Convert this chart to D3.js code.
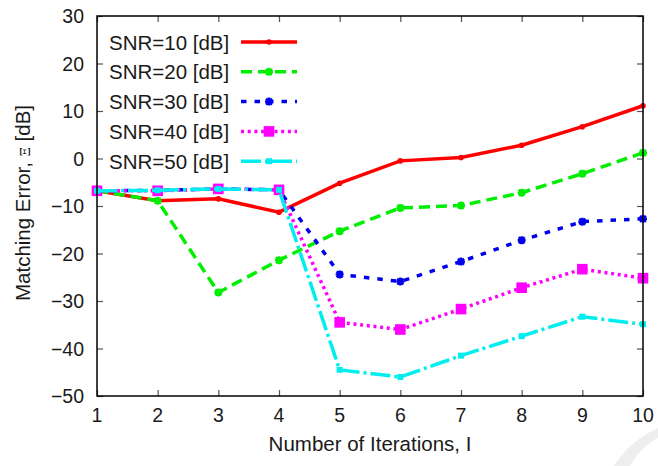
<!DOCTYPE html>
<html>
<head>
<meta charset="utf-8">
<script src="https://cdn.jsdelivr.net/npm/d3@7"></script>
<style>
  html, body { margin: 0; padding: 0; background: #fff; }
  svg { display: block; }
  text { font-family: "Liberation Sans", Arial, Helvetica, sans-serif; fill: #1a1a1a; }
</style>
</head>
<body>
<svg id="chart" width="658" height="466"></svg>
<script>
// Iteration index (x axis)
const iterations = [1, 2, 3, 4, 5, 6, 7, 8, 9, 10];

// Matching error in dB for each SNR level
const snr10 = [-6.8, -8.9, -8.5, -11.3, -5.2, -0.5, 0.2, 2.8, 6.7, 11.1];
const snr20 = [-6.8, -8.9, -28.2, -21.4, -15.3, -10.4, -9.9, -7.2, -3.2, 1.2];
const snr30 = [-6.8, -6.7, -6.4, -6.6, -24.4, -25.9, -21.7, -17.2, -13.3, -12.7];
const snr40 = [-6.8, -6.8, -6.4, -6.6, -34.5, -36.0, -31.7, -27.2, -23.3, -25.2];
const snr50 = [-6.8, -6.7, -6.4, -6.6, -44.5, -46.0, -41.5, -37.4, -33.3, -34.9];

const seriesLabels = ["SNR=10 [dB]", "SNR=20 [dB]", "SNR=30 [dB]", "SNR=40 [dB]", "SNR=50 [dB]"];

// Axis tick values
const xTicks = [1, 2, 3, 4, 5, 6, 7, 8, 9, 10];
const yTicks = [-50, -40, -30, -20, -10, 0, 10, 20, 30];

const series = [
  { label: seriesLabels[0], values: snr10, color: "#ff0000", dash: null,        marker: "circle" },
  { label: seriesLabels[1], values: snr20, color: "#00ee00", dash: "11,6",      marker: "star" },
  { label: seriesLabels[2], values: snr30, color: "#0000ee", dash: "5.5,8",     marker: "star" },
  { label: seriesLabels[3], values: snr40, color: "#ff00ff", dash: "3,3.7",     marker: "square" },
  { label: seriesLabels[4], values: snr50, color: "#00eeee", dash: "20,4,3,4",  marker: "smallsquare" }
];

const svg = d3.select("#chart");
const plotLeft = 97, plotRight = 643, plotTop = 16, plotBottom = 396;

const x = d3.scaleLinear().domain([1, 10]).range([plotLeft, plotRight]);
const y = d3.scaleLinear().domain([-50, 30]).range([plotBottom, plotTop]);

// Faint decorative arc at the lower right
svg.append("path")
  .attr("d", "M658,428 C640,436 624,450 614,466 L630,466 C638,452 648,443 658,438 Z")
  .attr("fill", "#eeeeee");

// Inward ticks on all four sides
const tickLen = 6;
const tickColor = "#555";
const bottomAxis = d3.axisBottom(x).tickValues(xTicks).tickSize(-tickLen).tickFormat("");
const topAxis = d3.axisTop(x).tickValues(xTicks).tickSize(-tickLen).tickFormat("");
const leftAxis = d3.axisLeft(y).tickValues(yTicks).tickSize(-tickLen).tickFormat("");
const rightAxis = d3.axisRight(y).tickValues(yTicks).tickSize(-tickLen).tickFormat("");

function styleAxis(g) {
  g.select(".domain").remove();
  g.selectAll(".tick line").attr("stroke", tickColor).attr("stroke-width", 1.2);
}
svg.append("g").attr("transform", `translate(0,${plotBottom})`).call(bottomAxis).call(styleAxis);
svg.append("g").attr("transform", `translate(0,${plotTop})`).call(topAxis).call(styleAxis);
svg.append("g").attr("transform", `translate(${plotLeft},0)`).call(leftAxis).call(styleAxis);
svg.append("g").attr("transform", `translate(${plotRight},0)`).call(rightAxis).call(styleAxis);

// Tick labels
const fmt = v => (v < 0 ? "\u2212" + Math.abs(v) : String(v));
svg.append("g").selectAll("text").data(yTicks).join("text")
  .attr("x", plotLeft - 13).attr("y", d => y(d) + 7)
  .attr("text-anchor", "end").attr("font-size", 19.5)
  .text(fmt);
svg.append("g").selectAll("text").data(xTicks).join("text")
  .attr("x", d => x(d)).attr("y", 422)
  .attr("text-anchor", "middle").attr("font-size", 19.5)
  .text(d => d);

// Axis titles
svg.append("text")
  .attr("x", (plotLeft + plotRight) / 2).attr("y", 451)
  .attr("text-anchor", "middle").attr("font-size", 20.5)
  .text("Number of Iterations, I");

const yTitle = svg.append("text")
  .attr("transform", `translate(30,${(plotTop + plotBottom) / 2 - 3}) rotate(-90)`)
  .attr("text-anchor", "middle").attr("font-size", 20.5);
yTitle.append("tspan").text("Matching Error, ");
yTitle.append("tspan").attr("font-size", 13).attr("font-family", "DejaVu Serif, serif").text("\u039E");
yTitle.append("tspan").text(" [dB]");

// Marker drawing
function drawMarker(g, kind, cx, cy, color) {
  if (kind === "circle") {
    g.append("circle").attr("cx", cx).attr("cy", cy).attr("r", 2.8).attr("fill", color);
  } else if (kind === "star") {
    const r = 4;
    const p = d3.path();
    p.moveTo(cx - r, cy); p.lineTo(cx + r, cy);
    p.moveTo(cx, cy - r); p.lineTo(cx, cy + r);
    const d = r * 0.75;
    p.moveTo(cx - d, cy - d); p.lineTo(cx + d, cy + d);
    p.moveTo(cx - d, cy + d); p.lineTo(cx + d, cy - d);
    g.append("path").attr("d", p.toString()).attr("stroke", color).attr("stroke-width", 2.4).attr("fill", "none");
    g.append("circle").attr("cx", cx).attr("cy", cy).attr("r", 2.2).attr("fill", color);
  } else if (kind === "square") {
    g.append("rect").attr("x", cx - 5.3).attr("y", cy - 5.3).attr("width", 10.6).attr("height", 10.6).attr("fill", color);
  } else if (kind === "smallsquare") {
    g.append("rect").attr("x", cx - 3).attr("y", cy - 3).attr("width", 6).attr("height", 6).attr("fill", color);
  }
}

const line = d3.line().x((d, i) => x(iterations[i])).y(d => y(d));

const plot = svg.append("g");
series.forEach(s => {
  const g = plot.append("g");
  g.append("path")
    .attr("d", line(s.values))
    .attr("fill", "none")
    .attr("stroke", s.color)
    .attr("stroke-width", 3.5)
    .attr("stroke-dasharray", s.dash)
    .attr("stroke-linejoin", "miter");
  s.values.forEach((v, i) => drawMarker(g, s.marker, x(iterations[i]), y(v), s.color));
});

// Legend
const legend = svg.append("g");
series.forEach((s, i) => {
  const cy = 42 + i * 29.8;
  legend.append("text")
    .attr("x", 109).attr("y", cy + 7.5)
    .attr("font-size", 20.5)
    .text(s.label);
  legend.append("line")
    .attr("x1", 241).attr("x2", 297).attr("y1", cy).attr("y2", cy)
    .attr("stroke", s.color).attr("stroke-width", 3.5)
    .attr("stroke-dasharray", s.dash);
  drawMarker(legend, s.marker, 269, cy, s.color);
});

// Plot frame
svg.append("rect")
  .attr("x", plotLeft).attr("y", plotTop)
  .attr("width", plotRight - plotLeft).attr("height", plotBottom - plotTop)
  .attr("fill", "none").attr("stroke", "#000").attr("stroke-width", 1.5);
</script>
</body>
</html>
